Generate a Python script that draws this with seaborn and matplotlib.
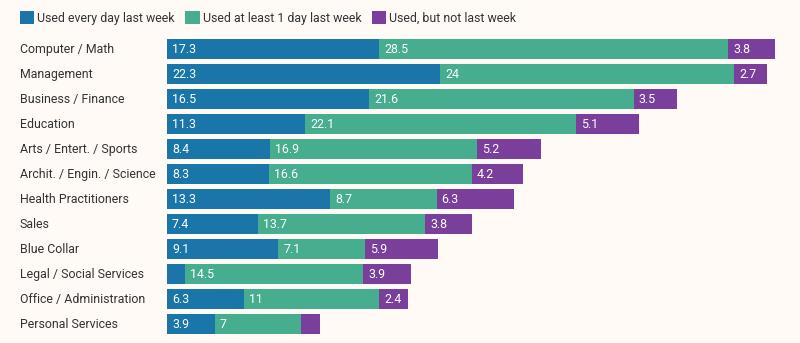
import matplotlib
matplotlib.use("Agg")
import matplotlib.pyplot as plt
import seaborn as sns
import pandas as pd
import numpy as np
from matplotlib.patches import Patch

categories = ["Computer / Math", "Management", "Business / Finance", "Education",
              "Arts / Entert. / Sports", "Archit. / Engin. / Science",
              "Health Practitioners", "Sales", "Blue Collar",
              "Legal / Social Services", "Office / Administration", "Personal Services"]
every_day = [17.3, 22.3, 16.5, 11.3, 8.4, 8.3, 13.3, 7.4, 9.1, 1.5, 6.3, 3.9]
at_least_one = [28.5, 24, 21.6, 22.1, 16.9, 16.6, 8.7, 13.7, 7.1, 14.5, 11, 7]
not_last_week = [3.8, 2.7, 3.5, 5.1, 5.2, 4.2, 6.3, 3.8, 5.9, 3.9, 2.4, 1.6]
series_names = ["Used every day last week", "Used at least 1 day last week", "Used, but not last week"]
colors = ["#1a76a8", "#47ad8f", "#7a3f9b"]
bg = "#fffaf6"

df = pd.DataFrame({"cat": categories, "a": every_day, "b": at_least_one, "c": not_last_week})
df["ab"] = df["a"] + df["b"]
df["abc"] = df["ab"] + df["c"]

sns.set_theme(style="white")
plt.rcParams["font.family"] = ["Roboto", "DejaVu Sans"]

fig = plt.figure(figsize=(8, 3.43), dpi=100, facecolor=bg)
ax = fig.add_axes([167/800, 1 - 337/343, (779.5 - 167)/800, 300.2/343])
ax.set_facecolor(bg)

for col, c in zip(["abc", "ab", "a"], colors[::-1]):
    sns.barplot(data=df, y="cat", x=col, color=c, orient="h", width=0.8,
                saturation=1, ax=ax, order=categories, linewidth=0, edgecolor="none")

ax.set_xlim(0, 50)
ax.set_ylim(len(categories) - 0.5, -0.5)
ax.set_xlabel("")
ax.set_ylabel("")
ax.set_xticks([])
ax.set_yticks([])
for s in ax.spines.values():
    s.set_visible(False)

fs = 8.9

# category labels
for i, cat in enumerate(categories):
    ax.annotate(cat, xy=(0, i), xycoords=("axes fraction", "data"),
                xytext=(20 - 167, 0), textcoords="offset pixels",
                ha="left", va="center", fontsize=fs, color="#333333")

# value labels
starts = [np.zeros(len(categories)), df["a"].values, df["ab"].values]
vals = [df["a"].values, df["b"].values, df["c"].values]
for st, v in zip(starts, vals):
    for i in range(len(categories)):
        if v[i] >= 2:
            txt = f"{v[i]:g}"
            ax.annotate(txt, xy=(st[i], i), xytext=(5, 0), textcoords="offset pixels",
                        ha="left", va="center", fontsize=fs, color="white")

handles = [Patch(facecolor=c, edgecolor="none") for c in colors]
fig.legend(handles, series_names, loc="upper left", bbox_to_anchor=(9/800, 1.0),
           ncol=3, frameon=False, fontsize=fs, handlelength=1.15, handleheight=1.25,
           handletextpad=0.25, columnspacing=0.85, labelcolor="#333333")

fig.savefig("out.png", dpi=100, facecolor=bg)
